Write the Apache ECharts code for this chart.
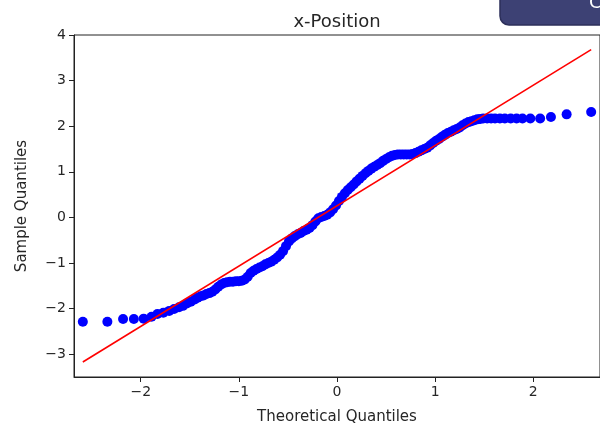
<!DOCTYPE html>
<html>
<head>
<meta charset="utf-8">
<script src="https://cdn.jsdelivr.net/npm/echarts@6/dist/echarts.min.js"></script>
<style>
html,body{margin:0;padding:0;background:#fff;}
#chart{width:600px;height:430px;}
</style>
</head>
<body>
<div id="chart"></div>
<script>
// Theoretical quantiles (x)
const theoretical = [
 -2.59,-2.34,-2.18,-2.07,-1.97,-1.89,-1.83,-1.77,-1.71,-1.66,-1.61,-1.57,-1.53,-1.49,-1.45,-1.42,-1.39,-1.36,-1.33,-1.30,
 -1.27,-1.24,-1.21,-1.18,-1.15,-1.12,-1.09,-1.06,-1.03,-1.00,-0.97,-0.94,-0.91,-0.88,-0.85,-0.82,-0.79,-0.76,-0.73,-0.70,
 -0.67,-0.64,-0.61,-0.58,-0.55,-0.52,-0.49,-0.46,-0.43,-0.40,-0.37,-0.34,-0.31,-0.28,-0.25,-0.22,-0.19,-0.16,-0.13,-0.10,
 -0.07,-0.04,-0.01,0.02,0.05,0.08,0.11,0.14,0.17,0.20,0.23,0.26,0.29,0.32,0.35,0.38,0.41,0.44,0.47,0.50,
 0.53,0.56,0.59,0.62,0.65,0.68,0.71,0.74,0.77,0.80,0.83,0.86,0.89,0.92,0.95,0.98,1.01,1.04,1.07,1.10,
 1.13,1.16,1.19,1.22,1.25,1.28,1.31,1.34,1.37,1.40,1.43,1.46,1.49,1.53,1.57,1.61,1.66,1.71,1.77,1.83,
 1.89,1.97,2.07,2.18,2.34,2.59
];
// Sample quantiles (y)
const sample = [
 -2.29,-2.29,-2.23,-2.23,-2.22,-2.18,-2.12,-2.09,-2.05,-2.01,-1.97,-1.94,-1.89,-1.85,-1.80,-1.76,-1.73,-1.71,-1.68,-1.66,
 -1.63,-1.58,-1.52,-1.47,-1.44,-1.42,-1.41,-1.41,-1.40,-1.40,-1.39,-1.36,-1.30,-1.22,-1.17,-1.13,-1.10,-1.07,-1.03,-1.00,
 -0.97,-0.93,-0.88,-0.82,-0.74,-0.63,-0.53,-0.46,-0.41,-0.37,-0.34,-0.30,-0.27,-0.23,-0.17,-0.09,-0.02,0.01,0.03,0.06,
 0.11,0.18,0.26,0.36,0.45,0.53,0.60,0.66,0.72,0.79,0.85,0.91,0.97,1.02,1.07,1.11,1.15,1.19,1.24,1.28,
 1.32,1.35,1.37,1.38,1.38,1.38,1.38,1.38,1.39,1.41,1.44,1.47,1.50,1.53,1.58,1.63,1.68,1.72,1.77,1.81,
 1.85,1.88,1.91,1.94,1.97,2.02,2.06,2.09,2.11,2.13,2.15,2.16,2.17,2.17,2.17,2.17,2.17,2.17,2.17,2.17,
 2.17,2.17,2.17,2.20,2.26,2.31
];
// Reference line end points
const lineX = [-2.59, 2.59];
const lineY = [-3.17, 3.68];
const xTicks = [-2, -1, 0, 1, 2];
const yTicks = [-3, -2, -1, 0, 1, 2, 3, 4];

const title = 'x-Position';
const xName = 'Theoretical Quantiles';
const yName = 'Sample Quantiles';

const pts = theoretical.map((x, i) => [x, sample[i]]);
const linePts = lineX.map((x, i) => [x, lineY[i]]);
const FONT = 'DejaVu Sans';
const fmt = v => String(v).replace('-', '\u2212');

const chart = echarts.init(document.getElementById('chart'), null, {renderer: 'canvas'});
chart.setOption({
  animation: false,
  backgroundColor: '#ffffff',
  grid: {left: 74, top: 35, width: 528, height: 342, show: true, borderColor: '#222', borderWidth: 1, backgroundColor: 'transparent'},
  xAxis: {
    type: 'value', min: -2.68, max: 2.68,
    name: xName, nameLocation: 'middle', nameGap: 33,
    nameTextStyle: {fontFamily: FONT, fontSize: 15, color: '#262626'},
    axisLine: {show: true, onZero: false, lineStyle: {color: '#222', width: 1}},
    axisTick: {show: true, length: 5, lineStyle: {color: '#222'}, customValues: xTicks},
    axisLabel: {fontFamily: FONT, fontSize: 14, color: '#262626', margin: 8, customValues: xTicks, formatter: fmt},
    splitLine: {show: false}
  },
  yAxis: {
    type: 'value', min: -3.5, max: 4,
    name: yName, nameLocation: 'middle', nameGap: 44,
    nameTextStyle: {fontFamily: FONT, fontSize: 15, color: '#262626'},
    axisLine: {show: true, onZero: false, lineStyle: {color: '#222', width: 1}},
    axisTick: {show: true, length: 5, lineStyle: {color: '#222'}, customValues: yTicks},
    axisLabel: {fontFamily: FONT, fontSize: 14, color: '#262626', margin: 8, customValues: yTicks, formatter: fmt},
    splitLine: {show: false}
  },
  series: [
    {
      type: 'scatter', data: pts, symbol: 'circle', symbolSize: 10,
      itemStyle: {color: '#0000ff', opacity: 1}, z: 2
    },
    {
      type: 'line', data: linePts, symbol: 'none',
      lineStyle: {color: '#ff0000', width: 1.6}, z: 3
    }
  ],
  graphic: [
    {type: 'rect', shape: {x: 500, y: -12, width: 130, height: 37, r: 9},
     style: {fill: '#3d4174', stroke: '#2c2f5a', lineWidth: 1.5}, z: 10},
    {type: 'text', x: 589, y: -6, style: {text: 'C', fill: '#ffffff', font: '18px "DejaVu Sans"'}, z: 11},
    {type: 'text', x: 337, y: 22, style: {text: title, fill: '#262626', font: '18px "DejaVu Sans"', textAlign: 'center', textVerticalAlign: 'middle'}, z: 11}
  ]
});
</script>
</body>
</html>
